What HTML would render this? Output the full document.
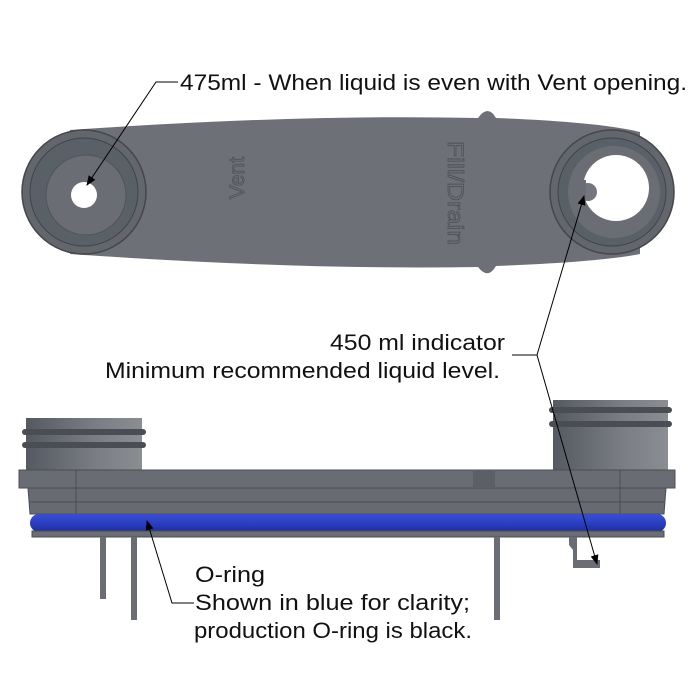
<!DOCTYPE html>
<html><head><style>body{margin:0;background:#fff}svg{display:block}text{font-family:"Liberation Sans",sans-serif;fill:#111}</style></head><body>
<svg width="700" height="700" viewBox="0 0 700 700" xmlns="http://www.w3.org/2000/svg">
<defs>
<marker id="ar" markerWidth="10" markerHeight="10" refX="9" refY="5" orient="auto" markerUnits="userSpaceOnUse"><path d="M0,1 L10,5 L0,9 Z" fill="#000"/></marker>
<linearGradient id="cyl" x1="0" x2="1"><stop offset="0" stop-color="#555a60"/><stop offset="0.6" stop-color="#7a7e84"/><stop offset="1" stop-color="#8a8d92"/></linearGradient>
<linearGradient id="blue" x1="0" y1="0" x2="0" y2="1"><stop offset="0" stop-color="#3a4fd0"/><stop offset="0.5" stop-color="#2b3fc4"/><stop offset="1" stop-color="#1e2e9a"/></linearGradient>
</defs>
<!-- top view -->
<path d="M70,130 Q300,114 478,118 Q488,104 496,118 Q600,122 640,132 L640,254 Q600,262 496,266 Q488,280 478,267 Q300,270 70,254 Z" fill="#6d7177"/>
<circle cx="84" cy="192" r="62" fill="#63676d" stroke="#44484d" stroke-width="1.5"/>
<circle cx="84" cy="192" r="54" fill="#5a6068" stroke="#3f4348"/>
<circle cx="86" cy="195" r="40" fill="#6a6e74" stroke="#50545a"/>
<circle cx="84" cy="195" r="13" fill="#fff"/>
<circle cx="612" cy="192" r="62" fill="#63676d" stroke="#44484d" stroke-width="1.5"/>
<circle cx="612" cy="192" r="54" fill="#5a6068" stroke="#3f4348"/>
<circle cx="614" cy="192" r="46" fill="#6a6e74"/>
<circle cx="616" cy="188" r="33" fill="#fff"/>
<circle cx="588" cy="192" r="9" fill="#73777d"/>
<rect x="576" y="180" width="10" height="30" fill="#6a6e74"/>
<text x="0" y="0" font-size="21" transform="translate(244,178) rotate(-90)" text-anchor="middle" style="fill:#6d7177;stroke:#4e5258;stroke-width:0.8">Vent</text>
<text x="0" y="0" font-size="22" transform="translate(448,193) rotate(90)" text-anchor="middle" textLength="104" lengthAdjust="spacingAndGlyphs" style="fill:#6d7177;stroke:#4e5258;stroke-width:0.8">Fill/Drain</text>
<!-- side view -->
<rect x="26" y="418" width="116" height="54" fill="url(#cyl)"/>
<rect x="22" y="429" width="124" height="6" rx="3" fill="#4a4e54"/>
<rect x="22" y="442" width="124" height="6" rx="3" fill="#4a4e54"/>
<rect x="553" y="400" width="115" height="72" fill="url(#cyl)"/>
<rect x="549" y="407" width="123" height="6" rx="3" fill="#4a4e54"/>
<rect x="549" y="421" width="123" height="6" rx="3" fill="#4a4e54"/>
<rect x="19" y="470" width="656" height="18" fill="#696d73" stroke="#4a4e54"/>
<path d="M28,488 L666,488 L664,514 L30,514 Z" fill="#676b71" stroke="#4a4e54"/>
<line x1="30" y1="502" x2="664" y2="502" stroke="#4a4e54"/>
<line x1="76" y1="470" x2="76" y2="536" stroke="#4a4e54"/>
<line x1="620" y1="470" x2="620" y2="536" stroke="#4a4e54"/>
<rect x="473" y="470" width="22" height="18" fill="#5c6066"/>
<rect x="30" y="514" width="636" height="18" rx="9" fill="url(#blue)"/>
<rect x="32" y="531" width="632" height="6" fill="#6a6e74" stroke="#4a4e54"/>
<rect x="100" y="537" width="6" height="62" fill="#6a6e74"/>
<rect x="131" y="537" width="6" height="83" fill="#6a6e74"/>
<rect x="494" y="537" width="6" height="83" fill="#6a6e74"/>
<path d="M569,537 L577,537 L577,560 L600,560 L600,568 L573,568 L573,550 L569,545 Z" fill="#6a6e74"/>
<!-- labels -->
<text x="180" y="90" font-size="22" textLength="507" lengthAdjust="spacingAndGlyphs">475ml - When liquid is even with Vent opening.</text>
<polyline points="178,82 156,82 87,185" fill="none" stroke="#000" stroke-width="1" marker-end="url(#ar)"/>
<text x="330" y="350" font-size="22" textLength="175" lengthAdjust="spacingAndGlyphs">450 ml indicator</text>
<text x="105" y="378" font-size="22" textLength="395" lengthAdjust="spacingAndGlyphs">Minimum recommended liquid level.</text>
<polyline points="512,355 537,355 584,196" fill="none" stroke="#000" stroke-width="1" marker-end="url(#ar)"/>
<line x1="537" y1="355" x2="597" y2="564" stroke="#000" stroke-width="1" marker-end="url(#ar)"/>
<text x="195" y="582" font-size="22" textLength="70" lengthAdjust="spacingAndGlyphs">O-ring</text>
<text x="195" y="610" font-size="22" textLength="275" lengthAdjust="spacingAndGlyphs">Shown in blue for clarity;</text>
<text x="194" y="638" font-size="22" textLength="278" lengthAdjust="spacingAndGlyphs">production O-ring is black.</text>
<polyline points="194,603 172,603 147,521" fill="none" stroke="#000" stroke-width="1" marker-end="url(#ar)"/>
</svg>
</body></html>
